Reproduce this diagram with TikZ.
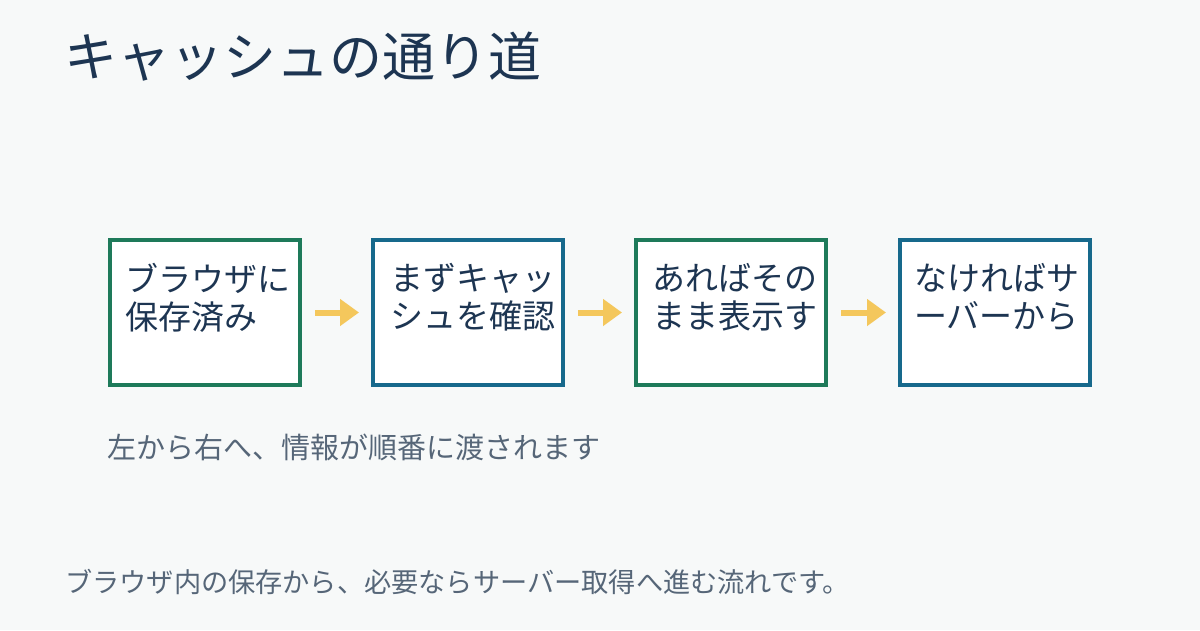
\documentclass[tikz,border=0pt]{standalone}
\usepackage{fontspec}
\setmainfont{Noto Sans CJK JP}
\usetikzlibrary{arrows.meta}
\definecolor{bg}{HTML}{F7F9F9}
\definecolor{ink}{HTML}{1D3552}
\definecolor{greyink}{HTML}{566678}
\definecolor{boxgreen}{HTML}{1E7A5A}
\definecolor{boxblue}{HTML}{17698C}
\definecolor{arrowy}{HTML}{F4C75C}
\tikzset{
  stepbox/.style={draw=#1, line width=4pt, fill=white, minimum width=190pt, minimum height=145pt, inner sep=0pt, anchor=north west},
  steptext/.style={anchor=north west, inner sep=0pt, align=left, text=ink, font=\fontsize{33}{38}\selectfont},
  flowarrow/.style={draw=arrowy, line width=6pt, -{Triangle[width=26pt,length=19pt]}},
}
\begin{document}
\begin{tikzpicture}[x=1pt,y=-1pt]
\fill[bg] (0,0) rectangle (1200,630);
\useasboundingbox (0,0) rectangle (1200,630);
\node[anchor=base west, inner sep=0pt, text=ink, font=\fontsize{53}{60}\selectfont] (title) at (64,76) {キャッシュの通り道};
\node[stepbox=boxgreen] (b1) at (108,238) {};
\node[stepbox=boxblue] (b2) at (371,238) {};
\node[stepbox=boxgreen] (b3) at (634,238) {};
\node[stepbox=boxblue] (b4) at (898,238) {};
\node[steptext] (t1) at (125,263) {ブラウザに\\保存済み};
\node[steptext] (t2) at (390,263) {まずキャッ\\シュを確認};
\node[steptext] (t3) at (652,263) {あればその\\まま表示す};
\node[steptext] (t4) at (914,263) {なければサ\\ーバーから};
\draw[flowarrow] ([xshift=13pt]b1.east) -- ([xshift=-12pt]b2.west);
\draw[flowarrow] ([xshift=13pt]b2.east) -- ([xshift=-12pt]b3.west);
\draw[flowarrow] ([xshift=13pt]b3.east) -- ([xshift=-12pt]b4.west);
\node[anchor=base west, inner sep=0pt, text=greyink, font=\fontsize{29}{34}\selectfont] (cap) at (107,458) {左から右へ、情報が順番に渡されます};
\node[anchor=base west, inner sep=0pt, text=greyink, font=\fontsize{27.2}{32}\selectfont] (foot) at (65,592) {ブラウザ内の保存から、必要ならサーバー取得へ進む流れです。};
\end{tikzpicture}
\end{document}
